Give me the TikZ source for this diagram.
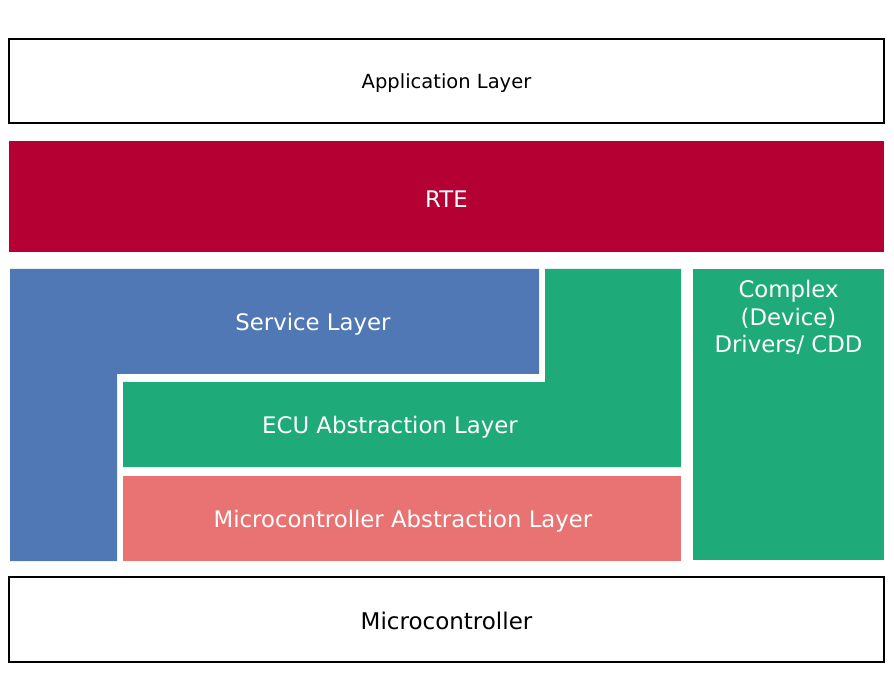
\documentclass[tikz,border=0pt]{standalone}
\usepackage{fontspec}
\setmainfont{DejaVu Sans}
\definecolor{rtered}{HTML}{B40032}
\definecolor{svcblue}{HTML}{4F78B5}
\definecolor{ecugreen}{HTML}{1FAA7A}
\definecolor{mcalpink}{HTML}{E87372}
\begin{document}
\begin{tikzpicture}[x=1pt,y=-1pt,
  plainbox/.style={draw=black,line width=1.3pt,fill=white},
  darktext/.style={text=black,font=\fontsize{19.5}{23}\selectfont},
  lighttext/.style={text=white,font=\fontsize{22.8}{27.5}\selectfont,align=center}]
\useasboundingbox (0,0) rectangle (894,700);
\fill[white] (0,0) rectangle (894,700);

% outer layers
\draw[plainbox] (9,39) rectangle (884,123);
\node[darktext] (app) at (446.5,83.5) {Application Layer};

\fill[rtered] (9,141) rectangle (884,252);
\node[lighttext] (rte) at (446.5,199) {RTE};

\draw[plainbox] (9,577) rectangle (884,662);
\node[darktext,font=\fontsize{23}{27}\selectfont] (mcu) at (446.5,621) {Microcontroller};

% service layer (L shape)
\fill[svcblue] (10,269) -- (539,269) -- (539,374) -- (117,374) -- (117,561) -- (10,561) -- cycle;
\node[lighttext] (svc) at (313,324) {Service Layer};

% ECU abstraction layer (L shape)
\fill[ecugreen] (545,269) -- (681,269) -- (681,467) -- (123,467) -- (123,382) -- (545,382) -- cycle;
\node[lighttext] (ecu) at (390,427) {ECU Abstraction Layer};

% microcontroller abstraction layer
\fill[mcalpink] (123,476) rectangle (681,561);
\node[lighttext] (mcal) at (403,521) {Microcontroller Abstraction Layer};

% complex device drivers
\fill[ecugreen] (693,269) rectangle (884,560);
\node[lighttext] (cdd) at (788.5,317.5) {Complex\\(Device)\\Drivers/ CDD};
\end{tikzpicture}
\end{document}
